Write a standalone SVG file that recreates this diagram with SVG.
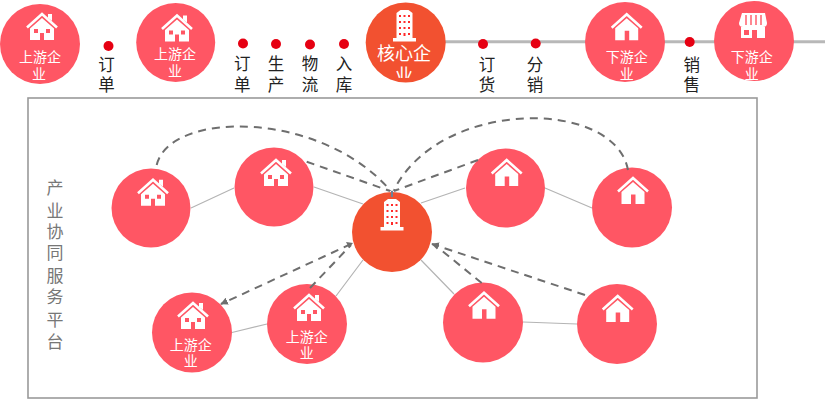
<svg xmlns="http://www.w3.org/2000/svg" width="825" height="400" viewBox="0 0 825 400">
<style>
text{font-family:"Noto Sans CJK SC","Liberation Sans",sans-serif;text-anchor:middle}
.c{fill:#ff5664}
.k{fill:#f25130}
.w{fill:#fff;font-size:14px}
.kw{fill:#fff;font-size:18px}
.d{fill:#e60012}
.l{fill:#222;font-size:16.500px}
.s{fill:#777;font-size:17px}
.t{fill:none;stroke:#b4b4b4;stroke-width:1.2}
.a{fill:none;stroke:#6e6e6e;stroke-width:2;stroke-dasharray:8 6}
.ar{marker-end:url(#ah)}
</style>
<defs>
<marker id="ah" viewBox="0 0 10 10" refX="9" refY="5" markerWidth="3.800" markerHeight="3.800" orient="auto"><path d="M0 0L10 5L0 10z" fill="#6e6e6e"/></marker>
<clipPath id="cb"><rect x="360" y="0" width="90" height="78"/></clipPath>
<symbol id="h1" overflow="visible" viewBox="-20 -5 40 40" width="40" height="40">
<path d="M-15 14.500L0 1L15 14.500" fill="none" stroke="#fff" stroke-width="2.600"/>
<path d="M6 1H10V8L6 5z" fill="#fff"/>
<path fill="#fff" fill-rule="evenodd" d="M0 5L12 15.500V27H2V20H-2V27H-12V15.500zM-8 16V20H-4V16zM4 16V20H8V16z"/>
</symbol>
<symbol id="h2" overflow="visible" viewBox="-20 -5 40 40" width="40" height="40">
<path d="M-15 14.500L0 1L15 14.500" fill="none" stroke="#fff" stroke-width="2.600"/>
<path fill="#fff" d="M0 5L11.500 15V27H2.500V17.500H-2V27H-11.500V15z"/>
</symbol>
<symbol id="b" overflow="visible" viewBox="-15 -2 30 36" width="30" height="36">
<path fill="#fff" d="M-4 0H4L8 3V28H11.500V31.500H-11.500V28H-8V3z"/>
<g fill="#ff2a2a"><rect x="-5.500" y="5" width="2" height="2"/><rect x="-1" y="5" width="2" height="2"/><rect x="3.500" y="5" width="2" height="2"/><rect x="-5.500" y="11" width="2" height="2"/><rect x="-1" y="11" width="2" height="2"/><rect x="3.500" y="11" width="2" height="2"/><rect x="-5.500" y="17" width="2" height="2"/><rect x="-1" y="17" width="2" height="2"/><rect x="3.500" y="17" width="2" height="2"/><rect x="-5.500" y="23" width="2" height="2"/><rect x="-1" y="23" width="2" height="3"/><rect x="3.500" y="23" width="2" height="2"/></g>
</symbol>
</defs>
<rect x="28" y="98" width="729" height="300" fill="#fff" stroke="#9a9a9a" stroke-width="1.600"/>
<path d="M445 41.700H825" fill="none" stroke="#b8b8b8" stroke-width="3"/>
<text class="s" x="55" y="194">产</text><text class="s" x="55" y="217">业</text><text class="s" x="55" y="238">协</text><text class="s" x="55" y="259">同</text><text class="s" x="55" y="282">服</text><text class="s" x="55" y="303">务</text><text class="s" x="55" y="326">平</text><text class="s" x="55" y="348">台</text>
<g id="top-up-1"><circle class="c" cx="40" cy="44" r="40"/><use href="#h1" x="22" y="8"/><text class="w" x="40" y="62">上游企</text><text class="w" x="39" y="79">业</text></g>
<g id="dot-1"><circle class="d" cx="108.500" cy="46" r="5"/><text class="l" x="106.500" y="71">订</text><text class="l" x="106.500" y="91">单</text></g>
<g id="top-up-2"><circle class="c" cx="175.700" cy="42.500" r="39.500"/><use href="#h1" x="157" y="9.500"/><text class="w" x="175" y="59">上游企</text><text class="w" x="175" y="76">业</text></g>
<g id="dot-2"><circle class="d" cx="243" cy="43.500" r="5"/><text class="l" x="242.300" y="70">订</text><text class="l" x="242.300" y="90.500">单</text></g>
<g id="dot-3"><circle class="d" cx="276" cy="44" r="5"/><text class="l" x="276" y="70">生</text><text class="l" x="276" y="90.500">产</text></g>
<g id="dot-4"><circle class="d" cx="310" cy="44.500" r="5"/><text class="l" x="310" y="70">物</text><text class="l" x="310" y="90.500">流</text></g>
<g id="dot-5"><circle class="d" cx="344" cy="44" r="5"/><text class="l" x="344" y="70">入</text><text class="l" x="344" y="90.500">库</text></g>
<g id="top-core"><circle class="k" cx="405.700" cy="42.500" r="40"/><use href="#b" x="389.500" y="8"/><text class="kw" x="404" y="59.500">核心企</text><text class="kw" x="404" y="82" clip-path="url(#cb)">业</text></g>
<g id="dot-6"><circle class="d" cx="483" cy="44" r="5"/><text class="l" x="487" y="71">订</text><text class="l" x="487" y="91">货</text></g>
<g id="dot-7"><circle class="d" cx="535.700" cy="43.500" r="5"/><text class="l" x="535" y="71">分</text><text class="l" x="535" y="91">销</text></g>
<g id="top-down-1"><circle class="c" cx="625" cy="42" r="40"/><use href="#h2" x="606.700" y="8.300"/><text class="w" x="626.700" y="62">下游企</text><text class="w" x="626.700" y="79">业</text></g>
<g id="dot-8"><circle class="d" cx="689.700" cy="42" r="5"/><text class="l" x="691.700" y="71">销</text><text class="l" x="691.700" y="91">售</text></g>
<g id="top-down-2"><circle class="c" cx="754" cy="41" r="40"/>
<path fill="#fff" d="M742 13H765L767 23Q767 27 763 27H743Q739 27 739 23z"/>
<path stroke="#ff5664" stroke-width="1.400" d="M746 15V25M751 15V25M756 15V25M761 15V25"/>
<path fill="#fff" fill-rule="evenodd" d="M741 27H765V38H757V30H752V38H741zM744 30V35H749V30z"/>
<text class="w" x="751.700" y="62">下游企</text><text class="w" x="751.700" y="79">业</text></g>
<g id="a"><circle class="c" cx="151" cy="208" r="39.500"/><use href="#h1" x="133" y="173.700"/></g>
<g id="b-node"><circle class="c" cx="274" cy="187" r="39.500"/><use href="#h1" x="256" y="154"/></g>
<g id="core"><circle class="k" cx="392" cy="232" r="40"/><use href="#b" x="377" y="197"/></g>
<g id="c"><circle class="c" cx="505.500" cy="188" r="39.500"/><use href="#h2" x="486.700" y="154"/></g>
<g id="d"><circle class="c" cx="632" cy="207.500" r="40"/><use href="#h2" x="613" y="172"/></g>
<g id="e"><circle class="c" cx="192" cy="332.500" r="40"/><use href="#h1" x="173" y="297"/><text class="w" x="190.700" y="350">上游企</text><text class="w" x="190.700" y="366">业</text></g>
<g id="f"><circle class="c" cx="307" cy="324" r="40"/><use href="#h1" x="289" y="289"/><text class="w" x="306.700" y="342">上游企</text><text class="w" x="306.700" y="358">业</text></g>
<g id="g"><circle class="c" cx="483" cy="322.500" r="40"/><use href="#h2" x="464" y="286.700"/></g>
<g id="h"><circle class="c" cx="617" cy="324" r="40"/><use href="#h2" x="597.700" y="290"/></g>
<g id="connectors">
<path class="t" d="M191 208L234 188M314 187L363 204M421 203L465 188M545 188L592 208M363 260L336 296M421 260L454 294M232 332.500L267 324M523 322L577 324"/>
<path class="a" d="M156.700 165C170 110 320 110 390 190"/>
<path class="a" d="M628 170C615 98 440 98 394 190"/>
<path class="a" d="M306.700 161.700L390 191"/>
<path class="a" d="M478 160L394 191"/>
<path d="M386 188L392 192L398 188L392 191z" fill="#6e6e6e"/>
<path d="M392 191V197" stroke="#6f8296" stroke-width="2"/>
<path class="a" stroke-dasharray="7 5" d="M310 288L351 245"/>
<path class="a ar" d="M351 244L221 304"/>
<path d="M346 242L353 243L349 248z" fill="#6e6e6e"/>
<path class="a" d="M481.700 283L441 250"/>
<path class="a ar" d="M585 295L432 244"/>
</g>
</svg>
